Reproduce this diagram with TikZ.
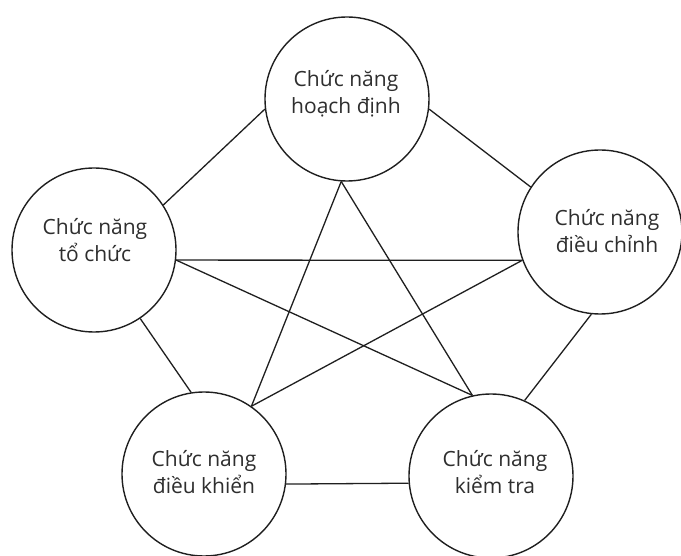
\documentclass[tikz,border=0pt]{standalone}
\usepackage{fontspec}
\setmainfont{Open Sans}
\begin{document}
\begin{tikzpicture}[x=1pt,y=-1pt,
  func/.style={circle,draw=black!88,line width=1.4pt,minimum size=164pt,inner sep=0pt},
  lbl/.style={align=center,text=black!82,font=\fontsize{21}{27}\selectfont,inner sep=0pt},
  link/.style={draw=black!88,line width=1.3pt}]
\useasboundingbox (0,0) rectangle (681,556);
\fill[white] (0,0) rectangle (681,556);
% circles
\node[func] (T)  at (347,99)  {};
\node[func] (L)  at (94,250)  {};
\node[func] (R)  at (600,232) {};
\node[func] (BL) at (204,474) {};
\node[func] (BR) at (491,476) {};
% labels
\node[lbl] (tT)  at (346,94)  {Chức năng\\hoạch định};
\node[lbl] (tL)  at (95,240)  {Chức năng\\tổ chức};
\node[lbl] (tR)  at (607,231) {Chức năng\\điều chỉnh};
\node[lbl] (tBL) at (204,472) {Chức năng\\điều khiển};
\node[lbl] (tBR) at (495,472) {Chức năng\\kiểm tra};
% connectors
\draw[link] (T.187.5) -- (L.33);
\draw[link] (T.-7.4)  -- (R.147);
\draw[link] (T.-94)   -- (BL.55.3);
\draw[link] (T.-94)   -- (BR.103.7);
\draw[link] (L.-7.6)  -- (R.200.6);
\draw[link] (L.-7.6)  -- (BR.103.7);
\draw[link] (L.-56.5) -- (BL.99.2);
\draw[link] (R.200.6) -- (BL.55.3);
\draw[link] (R.-96.7) -- (BR.66.7);
\draw[link] (BL.-7)   -- (BR.185.6);
\end{tikzpicture}
\end{document}
